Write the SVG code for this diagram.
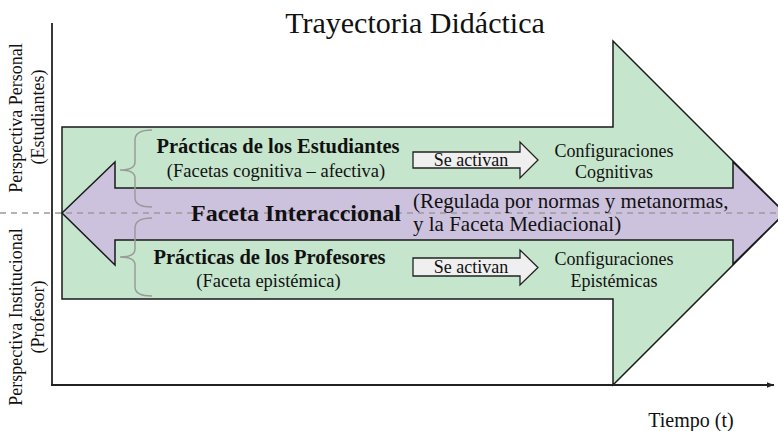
<svg xmlns="http://www.w3.org/2000/svg" width="778" height="431" viewBox="0 0 778 431">
<defs>
<style>
.t{font-family:"Liberation Serif","Times New Roman",serif;fill:#111}
.b{font-weight:bold}
.shape{stroke:#1a1a1a;stroke-width:1.5;stroke-linejoin:miter}
.brace{fill:none;stroke:#9a9a9a;stroke-width:1.5}
.axis{stroke:#222;stroke-width:1.8;fill:none}
</style>
<marker id="ah" viewBox="0 0 10 10" refX="10" refY="5" markerWidth="7" markerHeight="7" markerUnits="userSpaceOnUse" orient="auto">
<path d="M0,1 L10,5 L0,9 Z" fill="#222"/>
</marker>
</defs>
<rect width="778" height="431" fill="#fff"/>

<g id="green-arrow">
<path class="shape" fill="#c6e5cd" d="M62,127 L613,127 L613,41 L785,213 L613,385 L613,299 L62,299 Z"/>
</g>

<g id="purple-arrow">
<path class="shape" fill="#cdc2de" d="M62,213 L115,162 L115,188 L733,188 L733,162 L785,213 L733,264 L733,240 L115,240 L115,265 Z"/>
</g>

<g id="connectors">
<line class="axis" x1="52" y1="23" x2="52" y2="385"/>
<line class="axis" x1="51" y1="385" x2="774" y2="385" marker-end="url(#ah)"/>
<line x1="0" y1="213" x2="778" y2="213" stroke="#9a9a9a" stroke-width="1.5" stroke-dasharray="6,5"/>
</g>

<g id="braces">
<path class="brace" d="M152,130 Q135,130 135,140 L135,162 Q135,170 120,170 Q135,170 135,178 L135,198 Q135,207 152,207"/>
<path class="brace" d="M152,218 Q135,218 135,228 L135,249 Q135,257 120,257 Q135,257 135,265 L135,287 Q135,296 152,296"/>
</g>

<g id="title">
<text class="t" x="415" y="33" font-size="30" text-anchor="middle">Trayectoria Didáctica</text>
</g>

<g id="axis-labels">
<text class="t" font-size="18" text-anchor="middle" transform="translate(22,118) rotate(-90)">Perspectiva Personal</text>
<text class="t" font-size="18" text-anchor="middle" transform="translate(44,117) rotate(-90)">(Estudiantes)</text>
<text class="t" font-size="18" text-anchor="middle" transform="translate(22,317) rotate(-90)">Perspectiva Institucional</text>
<text class="t" font-size="18" text-anchor="middle" transform="translate(44,317) rotate(-90)">(Profesor)</text>
<text class="t" x="691" y="427" font-size="20" text-anchor="middle">Tiempo (t)</text>
</g>

<g id="practicas-estudiantes">
<text class="t b" x="278" y="153" font-size="20.5" text-anchor="middle">Prácticas de los Estudiantes</text>
<text class="t" x="276" y="177" font-size="18.5" text-anchor="middle">(Facetas cognitiva – afectiva)</text>
</g>

<g id="activan-1">
<path d="M413,152 L520,152 L520,142 L538,160 L520,178 L520,168 L413,168 Z" fill="#efefef" stroke="#222" stroke-width="1.3"/>
<text class="t" x="471" y="166" font-size="18" text-anchor="middle">Se activan</text>
</g>

<g id="config-cognitivas">
<text class="t" x="614" y="157" font-size="18" text-anchor="middle">Configuraciones</text>
<text class="t" x="614" y="178" font-size="18" text-anchor="middle">Cognitivas</text>
</g>

<g id="faceta-interaccional">
<text class="t b" x="296" y="221" font-size="24" text-anchor="middle">Faceta Interaccional</text>
<text class="t" x="413" y="208" font-size="21">(Regulada por normas y metanormas,</text>
<text class="t" x="413" y="231" font-size="21">y la Faceta Mediacional)</text>
</g>

<g id="practicas-profesores">
<text class="t b" x="269.5" y="264" font-size="20.5" text-anchor="middle">Prácticas de los Profesores</text>
<text class="t" x="268.5" y="287" font-size="18.5" text-anchor="middle">(Faceta epistémica)</text>
</g>

<g id="activan-2">
<path d="M413,258 L520,258 L520,250 L538,267.5 L520,285 L520,276 L413,276 Z" fill="#efefef" stroke="#222" stroke-width="1.3"/>
<text class="t" x="471" y="273" font-size="18" text-anchor="middle">Se activan</text>
</g>

<g id="config-epistemicas">
<text class="t" x="614" y="265" font-size="18" text-anchor="middle">Configuraciones</text>
<text class="t" x="614" y="287" font-size="18" text-anchor="middle">Epistémicas</text>
</g>
</svg>
